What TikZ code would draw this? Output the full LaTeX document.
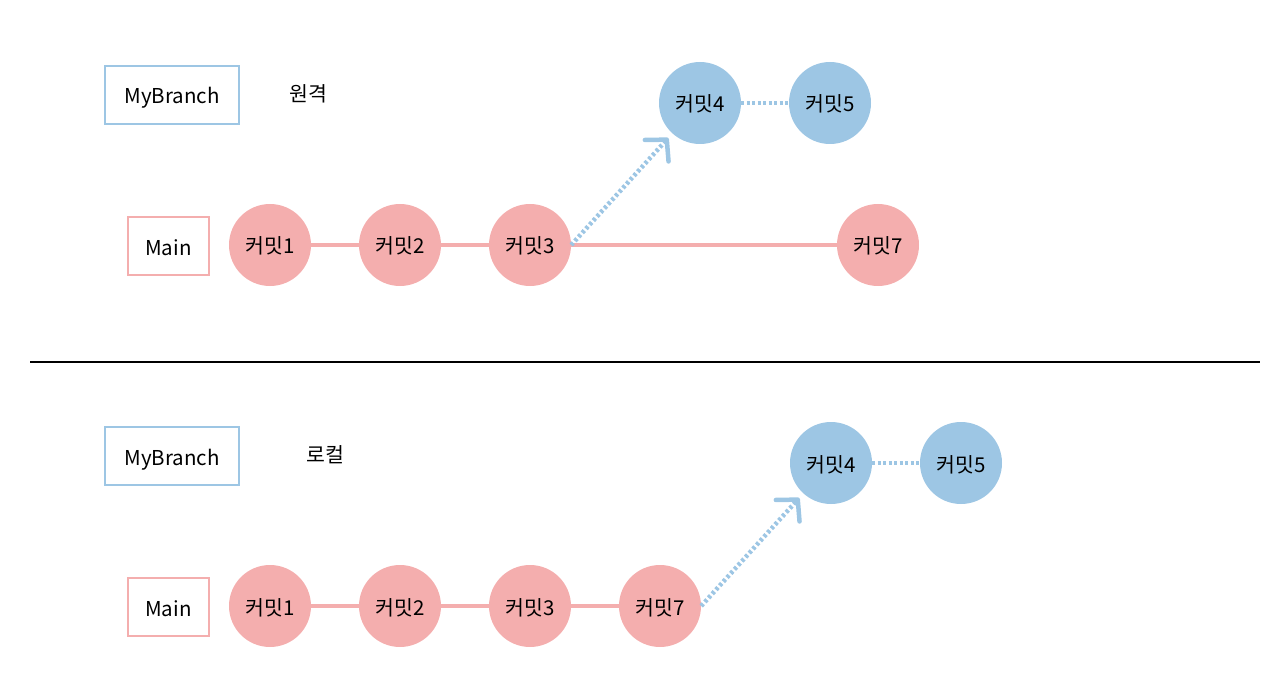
\documentclass[tikz,border=0pt]{standalone}
\usepackage{fontspec}
\setmainfont{Noto Sans CJK KR}
\usetikzlibrary{arrows.meta}
\definecolor{pinkc}{HTML}{F4AEAE}
\definecolor{bluec}{HTML}{9DC6E4}
\tikzset{
  txt/.style={font=\fontsize{20.5}{22}\selectfont, text height=18pt, text depth=0pt},
  commitp/.style={circle, fill=pinkc, minimum size=82pt, inner sep=0pt, txt},
  commitb/.style={circle, fill=bluec, minimum size=82pt, inner sep=0pt, txt},
  brbox/.style={draw=bluec, line width=1.6pt, minimum width=134pt, minimum height=58pt, inner sep=0pt, txt},
  mainbox/.style={draw=pinkc, line width=1.6pt, minimum width=81pt, minimum height=58pt, inner sep=0pt, txt},
  lbl/.style={txt},
  pline/.style={draw=pinkc, line width=4.5pt},
  bdot/.style={draw=bluec, line width=4.5pt, dash pattern=on 3pt off 2.5pt},
  barrow/.style={bdot, shorten >=6pt, -{Straight Barb[length=15pt, width=32pt, line cap=round, line join=round]}},
}
\begin{document}
\begin{tikzpicture}[x=1pt,y=-1pt]
\useasboundingbox (0,0) rectangle (1280,695);
% top
\node[brbox] (mb1) at (172,95) {MyBranch};
\node[lbl] (r1) at (308,93) {원격};
\node[mainbox] (m1) at (168.5,246) {Main};
\node[commitp] (a1) at (270,245) {커밋1};
\node[commitp] (a2) at (400,245) {커밋2};
\node[commitp] (a3) at (530,245) {커밋3};
\node[commitp] (a7) at (878,245) {커밋7};
\node[commitb] (a4) at (700,103) {커밋4};
\node[commitb] (a5) at (830,103) {커밋5};
\draw[pline] (a1) -- (a2);
\draw[pline] (a2) -- (a3);
\draw[pline] (a3) -- (a7);
\draw[bdot] (a4) -- (a5);
\draw[barrow] (a3.east) -- (a4);
% divider
\coordinate (dl) at (30,362);
\coordinate (dr) at (1260,362);
\draw[line width=1.2pt] (dl) -- (dr);
% bottom
\node[brbox] (mb2) at (172,456) {MyBranch};
\node[lbl] (r2) at (325,453) {로컬};
\node[mainbox] (m2) at (168.5,607) {Main};
\node[commitp] (b1) at (270,606) {커밋1};
\node[commitp] (b2) at (400,606) {커밋2};
\node[commitp] (b3) at (530,606) {커밋3};
\node[commitp] (b7) at (660,606) {커밋7};
\node[commitb] (b4) at (831,463) {커밋4};
\node[commitb] (b5) at (961,463) {커밋5};
\draw[pline] (b1) -- (b2);
\draw[pline] (b2) -- (b3);
\draw[pline] (b3) -- (b7);
\draw[bdot] (b4) -- (b5);
\draw[barrow] (b7.east) -- (b4);
\end{tikzpicture}
\end{document}
